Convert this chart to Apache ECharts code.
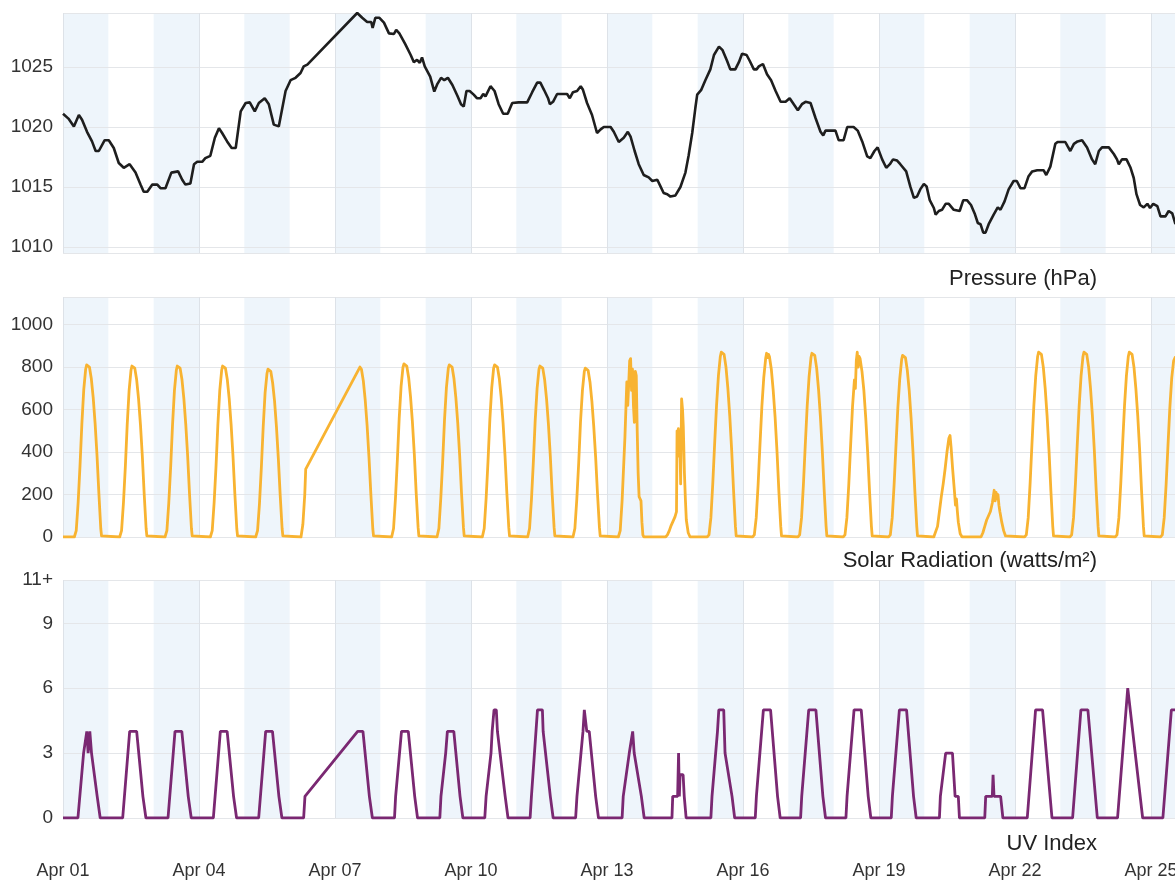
<!DOCTYPE html>
<html><head><meta charset="utf-8">
<script src="https://cdn.jsdelivr.net/npm/echarts@6/dist/echarts.min.js"></script>
<style>html,body{margin:0;padding:0;background:#fff}#c{width:1175px;height:886px}</style>
</head><body><div id="c"></div>
<script>
// ---------------- DATA ----------------
// x values are days since Apr 01 00:00 (day index + hour/24)
const dayLabelMonth = 'Apr';
const xTickDays = [0, 3, 6, 9, 12, 15, 18, 21, 24];
const pressureTicks = [1010, 1015, 1020, 1025];
const solarTicks = [0, 200, 400, 600, 800, 1000];
const uvTicks = [0, 3, 6, 9, 11];
const bandDays = [0, 2, 4, 6, 8, 10, 12, 14, 16, 18, 20, 22, 24];

// pressure: [day, hPa, day, hPa, ...]
const pressure = [
0,1021.1, 0.12,1020.7, 0.24,1020.05, 0.35,1021.0, 0.42,1020.6, 0.53,1019.6, 0.64,1018.8, 0.72,1018.0, 0.79,1018.0, 0.92,1018.9,
1.01,1018.9, 1.12,1018.25, 1.23,1017.0, 1.34,1016.6, 1.47,1016.9, 1.60,1016.2, 1.71,1015.2, 1.78,1014.6, 1.86,1014.6, 1.97,1015.2,
2.08,1015.2, 2.15,1014.9, 2.26,1014.9, 2.39,1016.2, 2.54,1016.3, 2.63,1015.6, 2.70,1015.2, 2.81,1015.3, 2.89,1016.9, 2.96,1017.1,
3.07,1017.1, 3.14,1017.4, 3.25,1017.6, 3.35,1019.1, 3.44,1019.9, 3.51,1019.5, 3.62,1018.8, 3.72,1018.25, 3.81,1018.25, 3.92,1021.3,
4.03,1022.0, 4.12,1022.05, 4.23,1021.3, 4.32,1022.0, 4.45,1022.4, 4.54,1021.9, 4.65,1020.2, 4.76,1020.05, 4.91,1023.0, 5.02,1023.9,
5.13,1024.1, 5.24,1024.5, 5.31,1025.05, 5.39,1025.2,
6.49,1029.5, 6.60,1029.1, 6.71,1028.75, 6.80,1028.75, 6.83,1028.25, 6.89,1029.1, 6.98,1029.1, 7.08,1028.7, 7.19,1027.8, 7.30,1027.75,
7.35,1028.1, 7.42,1027.8, 7.55,1026.9, 7.67,1026.0, 7.74,1025.4, 7.81,1025.6, 7.87,1025.35, 7.92,1025.8, 7.98,1025.05, 8.10,1024.2,
8.19,1022.95, 8.26,1023.6, 8.34,1024.1, 8.41,1023.9, 8.49,1024.1, 8.59,1023.5, 8.70,1022.6, 8.78,1021.9, 8.84,1021.7, 8.90,1023.0,
8.97,1023.0, 9.06,1022.7, 9.13,1022.4, 9.21,1022.4, 9.27,1022.75, 9.32,1022.55, 9.43,1023.4, 9.52,1023.0, 9.61,1021.9, 9.71,1021.1,
9.81,1021.1, 9.91,1022.0, 10.05,1022.05, 10.24,1022.05, 10.35,1022.9, 10.46,1023.7, 10.53,1023.7, 10.61,1023.1, 10.70,1022.4, 10.74,1021.9,
10.81,1022.1, 10.90,1022.75, 11.01,1022.75, 11.12,1022.75, 11.18,1022.4, 11.25,1022.9, 11.34,1023.0, 11.42,1023.4, 11.47,1023.1, 11.56,1022.0,
11.67,1021.0, 11.78,1019.5, 11.86,1019.8, 11.93,1020.0, 12.08,1020.0, 12.15,1019.6, 12.26,1018.75, 12.37,1019.1, 12.46,1019.6, 12.52,1019.2,
12.61,1018.0, 12.70,1016.9, 12.81,1016.0, 12.92,1015.8, 13.00,1015.5, 13.11,1015.6, 13.18,1015.05, 13.25,1014.5, 13.33,1014.4, 13.40,1014.2,
13.51,1014.3, 13.62,1015.0, 13.73,1016.2, 13.80,1017.6, 13.88,1019.5, 13.95,1021.6, 13.99,1022.7, 14.08,1023.1, 14.17,1023.9, 14.28,1024.8,
14.36,1026.0, 14.47,1026.7, 14.55,1026.4, 14.65,1025.5, 14.72,1024.8, 14.83,1024.8, 14.91,1025.4, 14.98,1026.1, 15.08,1026.0, 15.15,1025.5,
15.24,1024.8, 15.30,1024.8, 15.35,1025.05, 15.44,1025.25, 15.53,1024.4, 15.62,1023.9, 15.72,1023.0, 15.83,1022.1, 15.94,1022.1, 16.03,1022.4,
16.12,1021.9, 16.21,1021.4, 16.30,1021.9, 16.38,1022.1, 16.49,1022.0, 16.60,1020.75, 16.71,1019.6, 16.77,1019.3, 16.82,1019.7, 16.93,1019.7,
17.04,1019.7, 17.11,1018.9, 17.22,1018.9, 17.30,1020.0, 17.44,1020.0, 17.53,1019.7, 17.63,1018.8, 17.74,1017.55, 17.81,1017.4, 17.90,1018.0,
17.97,1018.3, 18.07,1017.3, 18.16,1016.6, 18.24,1016.9, 18.31,1017.3, 18.40,1017.2, 18.47,1016.9, 18.60,1016.3, 18.69,1015.05, 18.77,1014.1,
18.84,1014.2, 18.91,1014.8, 18.99,1015.25, 19.05,1015.05, 19.12,1013.9, 19.21,1013.25, 19.25,1012.7, 19.32,1013.0, 19.39,1013.1, 19.47,1013.6,
19.54,1013.6, 19.65,1013.1, 19.78,1013.0, 19.86,1013.9, 19.94,1013.9, 20.03,1013.5, 20.11,1012.8, 20.18,1012.0, 20.24,1011.9, 20.30,1011.2,
20.35,1011.2, 20.42,1011.9, 20.53,1012.7, 20.62,1013.3, 20.68,1013.1, 20.77,1013.8, 20.86,1014.8, 20.97,1015.5, 21.04,1015.5, 21.12,1014.9,
21.21,1014.9, 21.30,1015.9, 21.38,1016.3, 21.49,1016.4, 21.63,1016.4, 21.69,1016.0, 21.78,1016.7, 21.89,1018.6, 21.94,1018.75, 22.11,1018.75,
22.16,1018.4, 22.22,1018.0, 22.30,1018.6, 22.38,1018.8, 22.48,1018.9, 22.59,1018.3, 22.70,1017.3, 22.77,1016.9, 22.85,1018.0, 22.92,1018.3,
23.07,1018.3, 23.18,1017.75, 23.25,1017.3, 23.29,1016.9, 23.36,1017.3, 23.46,1017.3, 23.55,1016.6, 23.62,1015.75, 23.68,1014.4, 23.76,1013.5,
23.84,1013.3, 23.92,1013.6, 23.98,1013.25, 24.05,1013.6, 24.14,1013.4, 24.21,1012.55, 24.32,1012.55, 24.39,1013.0, 24.47,1012.8, 24.54,1011.9
];

// solar radiation per day (Apr 01 .. Apr 25): [hour, W/m², hour, W/m², ...]
const solarDays = [
[0,0, 6,0, 6.6,5, 7,30, 8,160, 9,335, 10,535, 11,695, 12,790, 12.5,810, 13,815, 13.5,812, 14,800, 15,745, 16,655, 17,535, 18,385, 19,205, 20,40, 20.4,5, 21,0],
[6,0, 6.6,5, 7,30, 8,160, 9,330, 10,530, 11,690, 12,785, 12.5,805, 13,810, 13.5,807, 14,795, 15,740, 16,650, 17,530, 18,380, 19,200, 20,40, 20.4,5, 21,0],
[6,0, 6.6,5, 7,30, 8,160, 9,330, 10,530, 11,690, 12,785, 12.5,805, 13,810, 13.5,807, 14,795, 15,740, 16,650, 17,530, 18,380, 19,200, 20,40, 20.4,5, 21,0],
[6,0, 6.6,5, 7,30, 8,160, 9,330, 10,530, 11,690, 12,785, 12.5,805, 13,810, 13.5,807, 14,795, 15,740, 16,650, 17,530, 18,380, 19,200, 20,40, 20.4,5, 21,0],
[6,0, 6.6,5, 7,30, 8,155, 9,325, 10,520, 11,680, 12,770, 12.5,790, 13,795, 13.5,792, 14,780, 15,725, 16,640, 17,520, 18,370, 19,195, 20,40, 20.4,5, 21,0],
[6,0, 6.6,0, 7,60, 8,200, 8.5,320],
[13.2,800, 13.6,797, 14,790, 15,735, 16,645, 17,525, 18,375, 19,200, 20,40, 20.4,5, 21,0],
[6,0, 6.6,5, 7,40, 8,180, 9,360, 10,560, 11,710, 12,800, 12.5,815, 13,820, 13.5,817, 14,805, 15,750, 16,660, 17,540, 18,390, 19,205, 20,45, 20.4,5, 21,0],
[6,0, 6.6,5, 7,40, 8,180, 9,355, 10,555, 11,705, 12,795, 12.5,810, 13,815, 13.5,812, 14,800, 15,745, 16,655, 17,535, 18,385, 19,205, 20,45, 20.4,5, 21,0],
[6,0, 6.6,5, 7,40, 8,180, 9,355, 10,555, 11,705, 12,795, 12.5,810, 13,815, 13.5,812, 14,800, 15,745, 16,655, 17,535, 18,385, 19,205, 20,45, 20.4,5, 21,0],
[6,0, 6.6,5, 7,40, 8,175, 9,350, 10,550, 11,700, 12,790, 12.5,805, 13,810, 13.5,807, 14,795, 15,740, 16,650, 17,530, 18,380, 19,200, 20,45, 20.4,5, 21,0],
[6,0, 6.6,5, 7,40, 8,175, 9,345, 10,545, 11,690, 12,780, 12.5,795, 13,800, 13.5,797, 14,785, 15,730, 16,640, 17,520, 18,375, 19,200, 20,45, 20.4,5, 21,0],
[6,0, 7,30, 8,170, 9,370, 9.5,470, 10,600, 10.5,730, 11,620, 11.5,720, 12,830, 12.5,840, 13,690, 13.5,790, 14,620, 14.5,540, 15,780, 15.5,760, 16,500, 16.5,300, 17,190, 17.5,180, 18,170, 18.5,70, 19,10, 19.5,0],
[7,0, 8,10, 9,30, 10,55, 11,75, 12,95, 12.8,120, 13.1,500, 13.4,420, 13.8,510, 14.2,380, 14.6,450, 15,250, 15.5,650, 16,600, 16.4,520, 17,300, 17.5,180, 18,80, 19,20, 20,0],
[5,0, 5.6,5, 6,10, 7,90, 8,250, 9,440, 10,620, 11,760, 12,850, 12.5,870, 13,875, 13.5,872, 14,860, 15,800, 16,700, 17,570, 18,410, 19,220, 20,50, 20.4,5, 21,0],
[5,0, 5.6,5, 6,10, 7,90, 8,245, 9,435, 10,615, 11,750, 12,840, 12.5,865, 13,845, 13.5,860, 14,850, 15,790, 16,690, 17,565, 18,405, 19,215, 20,50, 20.4,5, 21,0],
[5,0, 5.6,5, 6,10, 7,90, 8,248, 9,438, 10,618, 11,755, 12,845, 12.5,865, 13,870, 13.5,867, 14,855, 15,795, 16,695, 17,565, 18,405, 19,218, 20,50, 20.4,5, 21,0],
[5,0, 5.6,5, 6,10, 7,90, 8,245, 9,435, 10,615, 11,740, 11.5,700, 12,830, 12.5,870, 13,800, 13.5,850, 14,840, 15,780, 16,690, 17,560, 18,400, 19,215, 20,50, 20.4,5, 21,0],
[5,0, 5.6,5, 6,10, 7,90, 8,245, 9,430, 10,610, 11,745, 12,835, 12.5,855, 13,860, 13.5,857, 14,845, 15,785, 16,690, 17,560, 18,400, 19,215, 20,50, 20.4,5, 21,0],
[5,0, 6,0, 7,50, 8,120, 9,190, 10,250, 11,320, 12,400, 13,465, 13.6,478, 14.2,420, 15,320, 16,210, 16.5,150, 17,180, 17.5,120, 18,70, 19,15, 20,0],
[6,0, 7,20, 8,50, 9,80, 10,100, 11,120, 12,160, 12.5,190, 13,220, 13.5,170, 14,210, 14.5,180, 15,200, 15.5,150, 16,120, 17,70, 18,30, 19,5, 20,0],
[5,0, 5.6,5, 6,10, 7,90, 8,250, 9,440, 10,620, 11,760, 12,850, 12.5,870, 13,875, 13.5,872, 14,860, 15,800, 16,700, 17,570, 18,410, 19,220, 20,50, 20.4,5, 21,0],
[5,0, 5.6,5, 6,10, 7,90, 8,250, 9,440, 10,620, 11,760, 12,850, 12.5,870, 13,875, 13.5,872, 14,860, 15,800, 16,700, 17,570, 18,410, 19,220, 20,50, 20.4,5, 21,0],
[5,0, 5.6,5, 6,10, 7,90, 8,250, 9,440, 10,620, 11,760, 12,850, 12.5,870, 13,875, 13.5,872, 14,860, 15,800, 16,700, 17,570, 18,410, 19,220, 20,50, 20.4,5, 21,0],
[5,0, 5.6,5, 6,10, 7,90, 8,245, 9,430, 10,610, 11,750, 12,830, 13,850]
];

// UV index per day (Apr 01 .. Apr 25): [hour, index, hour, index, ...]
const uvDays = [
[0,0, 7.9,0, 10.9,3, 11.9,3, 12.6,4, 13.3,3, 14.2,4, 15.1,3, 15.8,3, 18.1,1, 19.0,1, 19.7,0],
[7.6,0, 11.3,4, 15.0,4, 18.3,1, 19.2,1, 19.9,0],
[7.6,0, 11.3,4, 14.9,4, 18.3,1, 19.2,1, 19.9,0],
[7.6,0, 11.3,4, 14.9,4, 18.3,1, 19.2,1, 19.9,0],
[7.6,0, 11.3,4, 14.9,4, 18.3,1, 19.2,1, 19.9,0],
[7.4,0, 8.1,1],
[12.0,4, 14.8,4, 18.2,1, 19.0,1, 19.8,0],
[7.5,0, 8.1,1, 11.2,4, 14.8,4, 18.2,1, 19.0,1, 19.7,0],
[7.5,0, 8.1,1, 10.6,3, 11.0,3, 11.5,4, 14.9,4, 18.2,1, 19.0,1, 19.7,0],
[7.3,0, 8.0,1, 10.6,3, 11.2,4, 12.2,5, 13.4,5, 14.0,4, 14.8,4, 18.1,1, 18.9,1, 19.6,0],
[7.3,0, 8.0,1, 11.2,5, 13.8,5, 14.2,4, 14.8,4, 18.0,1, 18.8,1, 19.5,0],
[7.4,0, 8.1,1, 11.3,4, 12.0,5, 12.7,5, 13.3,4, 14.6,4, 18.0,1, 18.8,1, 19.5,0],
[8.0,0, 8.6,1, 11.8,3, 12.8,3, 13.6,4, 14.4,3, 15.4,3, 18.2,1, 19.0,1, 19.7,0],
[10.4,0, 10.8,1, 13.4,1, 13.9,3, 14.3,1, 14.7,2, 16.3,2, 16.9,1, 17.9,0],
[7.0,0, 7.6,1, 10.5,4, 11.2,5, 13.8,5, 14.5,3, 15.3,3, 18.2,1, 18.9,1, 19.6,0],
[6.5,0, 7.1,1, 10.8,5, 14.6,5, 18.3,1, 19.0,1, 19.7,0],
[6.5,0, 7.1,1, 10.8,5, 14.6,5, 18.3,1, 19.0,1, 19.7,0],
[6.5,0, 7.1,1, 10.8,5, 14.6,5, 18.3,1, 19.0,1, 19.7,0],
[6.5,0, 7.1,1, 10.8,5, 14.6,5, 18.3,1, 19.0,1, 19.7,0],
[8.0,0, 8.5,1, 9.5,1, 11.3,3, 14.9,3, 16.3,1, 18.0,1, 18.6,0],
[8.0,0, 8.5,1, 12.0,1, 12.4,2, 12.9,1, 16.4,1, 17.6,0],
[6.5,0, 10.9,5, 14.6,5, 19.6,0],
[6.5,0, 10.9,5, 14.6,5, 19.6,0],
[6.3,0, 11.7,6, 12.5,6, 19.6,0],
[6.3,0, 10.8,5, 13.0,5]
];

// ---------------- BUILD ----------------
const FONT = '"Liberation Sans", Arial, Helvetica, sans-serif';
const X_MAX = 24.53;
const GRID_COLOR = '#e4e6e9';
const BAND_COLOR = '#eef5fb';

function flatPairs(flat) {
  const out = [];
  for (let i = 0; i < flat.length; i += 2) out.push([flat[i], flat[i + 1]]);
  return out;
}
function dailyPairs(days) {
  const out = [];
  days.forEach((flat, d) => {
    for (let i = 0; i < flat.length; i += 2) out.push([d + flat[i] / 24, flat[i + 1]]);
  });
  return out;
}
const pressureData = flatPairs(pressure);
const solarData = dailyPairs(solarDays);
const uvData = dailyPairs(uvDays);

function xAxis(gi, showLabels) {
  return {
    type: 'value', gridIndex: gi, min: 0, max: X_MAX, interval: 3, z: 2,
    axisLine: { show: false }, axisTick: { show: false },
    splitLine: { show: true, lineStyle: { color: '#dde2e8', width: 1 } },
    axisLabel: {
      show: showLabels, margin: 44, fontSize: 18, color: '#333', fontFamily: FONT,
      hideOverlap: false,
      formatter: v => xTickDays.includes(v) ? dayLabelMonth + ' ' + String(v + 1).padStart(2, '0') : ''
    }
  };
}
const yLabel = { fontSize: 19, color: '#333', fontFamily: FONT, margin: 10 };

function bandSeries(gi) {
  return {
    type: 'custom', xAxisIndex: gi, yAxisIndex: gi, z: 1, silent: true, clip: true,
    data: bandDays.map(d => [d]),
    encode: { x: 0 },
    renderItem: function (params, api) {
      const d = api.value(0);
      const cs = params.coordSys;
      const p0 = api.coord([d, 0]);
      const p1 = api.coord([d + 1, 0]);
      const x0 = Math.max(p0[0], cs.x);
      const x1 = Math.min(p1[0], cs.x + cs.width);
      return { type: 'rect', shape: { x: x0, y: cs.y, width: Math.max(0, x1 - x0), height: cs.height },
               style: { fill: BAND_COLOR } };
    }
  };
}

const gridBase = { left: 63, right: 0, containLabel: false, outerBoundsMode: 'none' };

const option = {
  animation: false,
  backgroundColor: '#ffffff',
  textStyle: { fontFamily: FONT },
  title: [
    { text: 'Pressure (hPa)', right: 78, top: 268, padding: 0, textStyle: { fontSize: 22, fontWeight: 'normal', color: '#222', fontFamily: FONT } },
    { text: 'Solar Radiation (watts/m²)', right: 78, top: 550, padding: 0, textStyle: { fontSize: 22, fontWeight: 'normal', color: '#222', fontFamily: FONT } },
    { text: 'UV Index', right: 78, top: 833, padding: 0, textStyle: { fontSize: 22, fontWeight: 'normal', color: '#222', fontFamily: FONT } }
  ],
  grid: [
    Object.assign({ top: 13, height: 240 }, gridBase),
    Object.assign({ top: 297, height: 240 }, gridBase),
    Object.assign({ top: 580, height: 238 }, gridBase)
  ],
  xAxis: [xAxis(0, false), xAxis(1, false), xAxis(2, true)],
  yAxis: [
    { type: 'value', gridIndex: 0, min: 1009.5, max: 1029.5, z: 2,
      axisLine: { show: false },
      axisTick: { show: false, customValues: [1009.5].concat(pressureTicks, [1029.5]) },
      axisLabel: Object.assign({ customValues: pressureTicks, formatter: v => String(v) }, yLabel),
      splitLine: { show: true, lineStyle: { color: GRID_COLOR } } },
    { type: 'value', gridIndex: 1, min: 0, max: 1130, interval: 200, z: 2,
      axisLine: { show: false }, axisTick: { show: false },
      axisLabel: Object.assign({ formatter: v => solarTicks.includes(v) ? String(v) : '' }, yLabel),
      splitLine: { show: true, lineStyle: { color: GRID_COLOR } } },
    { type: 'value', gridIndex: 2, min: 0, max: 11, interval: 3, z: 2,
      axisLine: { show: false }, axisTick: { show: false },
      axisLabel: Object.assign({ formatter: v => uvTicks.includes(v) ? (v === 11 ? '11+' : String(v)) : '' }, yLabel),
      splitLine: { show: true, lineStyle: { color: GRID_COLOR } } }
  ],
  series: [
    bandSeries(0), bandSeries(1), bandSeries(2),
    { name: 'Pressure', type: 'line', xAxisIndex: 0, yAxisIndex: 0, z: 3, data: pressureData,
      showSymbol: false, clip: true, lineStyle: { color: '#1e1e1e', width: 2.6 } },
    { name: 'Solar Radiation', type: 'line', xAxisIndex: 1, yAxisIndex: 1, z: 3, data: solarData,
      showSymbol: false, clip: true, lineStyle: { color: '#f8b331', width: 2.8, join: 'round' } },
    { name: 'UV Index', type: 'line', xAxisIndex: 2, yAxisIndex: 2, z: 3, data: uvData,
      showSymbol: false, clip: true, lineStyle: { color: '#7a2872', width: 2.8 } }
  ]
};
const chart = echarts.init(document.getElementById('c'), null, { renderer: 'canvas' });
chart.setOption(option);
</script>
</body></html>
